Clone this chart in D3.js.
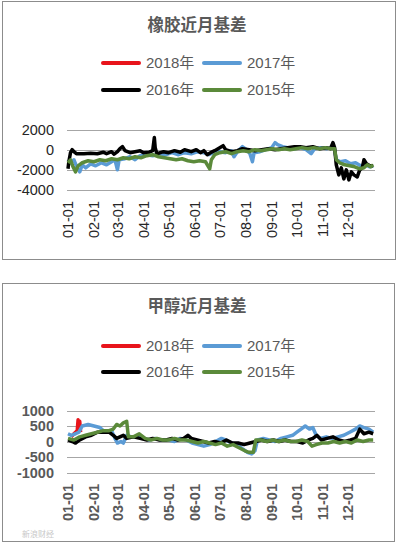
<!DOCTYPE html>
<html>
<head>
<meta charset="utf-8">
<script src="https://cdn.jsdelivr.net/npm/d3@7"></script>
<style>
  body { margin: 0; background: #fff; }
  svg { display: block; font-family: "Liberation Sans", "Noto Sans CJK SC", sans-serif; }
</style>
</head>
<body>
<svg id="chart" width="398" height="545"></svg>
<script>
// ---- data ----
var monthTicks = ["01-01","02-01","03-01","04-01","05-01","06-01","07-01","08-01","09-01","10-01","11-01","12-01"];
var seriesNames = ["2018年","2017年","2016年","2015年"];
var seriesColors = ["#e8141b","#5b9bd5","#000000","#5b8a3a"];

var rubberTicks = [2000, 0, -2000, -4000];
var methanolTicks = [1000, 500, 0, -500, -1000];

// 橡胶
var rubber2018 = [];
var rubber2017 = [["01-01",-1000],["01-04",-1300],["01-08",-1000],["01-12",-1800],["01-15",-2200],["01-18",-1500],["01-22",-1800],["01-28",-1400],["02-03",-1600],["02-10",-1300],["02-16",-1500],["02-22",-1200],["02-26",-1000],["03-01",-2000],["03-03",-1000],["03-10",-900],["03-16",-700],["03-22",-1000],["03-28",-600],["04-05",-500],["04-12",-600],["04-20",-400],["04-28",-500],["05-05",-300],["05-12",-500],["05-20",-300],["05-28",-400],["06-05",-200],["06-12",-300],["06-18",-500],["06-24",-300],["07-01",-200],["07-08",-300],["07-15",-100],["07-18",-700],["07-22",-200],["07-28",300],["08-02",0],["08-06",-400],["08-09",-1200],["08-11",-300],["08-18",-200],["08-25",0],["09-01",200],["09-05",700],["09-08",500],["09-14",300],["09-20",200],["09-28",100],["10-05",200],["10-12",0],["10-18",-400],["10-22",100],["10-30",200],["11-06",100],["11-12",200],["11-15",0],["11-17",-1000],["11-22",-1200],["11-28",-1100],["12-04",-1400],["12-10",-1300],["12-16",-1600],["12-22",-1500],["12-27",-1700],["12-31",-1600]];
var rubber2016 = [["01-01",-1900],["01-02",-1200],["01-04",-300],["01-06",0],["01-08",-200],["01-11",-400],["01-20",-400],["01-28",-350],["02-05",-400],["02-12",-250],["02-16",-400],["02-22",-200],["02-25",-450],["03-01",-200],["03-04",100],["03-07",300],["03-10",-100],["03-16",-300],["03-22",-200],["03-28",-100],["04-01",-300],["04-08",-250],["04-12",-100],["04-14",1200],["04-15",200],["04-17",-400],["04-25",-200],["05-01",-300],["05-08",-100],["05-15",-250],["05-20",0],["05-28",-200],["06-03",0],["06-08",-300],["06-12",-100],["06-16",-500],["06-20",-300],["06-25",-100],["07-01",200],["07-05",400],["07-08",0],["07-15",-200],["07-22",-100],["07-28",100],["08-05",0],["08-12",-100],["08-20",0],["08-28",100],["09-05",0],["09-12",100],["09-20",200],["09-28",300],["10-05",300],["10-12",200],["10-20",300],["10-28",100],["11-05",200],["11-10",100],["11-13",700],["11-15",200],["11-17",-1500],["11-20",-2500],["11-23",-1800],["11-26",-2900],["11-29",-2000],["12-02",-3000],["12-05",-2200],["12-08",-2500],["12-12",-2700],["12-15",-2000],["12-18",-1800],["12-20",-1000],["12-23",-1400],["12-27",-1600],["12-31",-1600]];
var rubber2015 = [["01-01",-1300],["01-04",-1000],["01-07",-1700],["01-10",-2200],["01-13",-1600],["01-18",-1300],["01-25",-1100],["02-01",-1200],["02-08",-1000],["02-15",-1100],["02-22",-900],["03-01",-1000],["03-08",-800],["03-15",-900],["03-22",-700],["03-29",-800],["04-05",-600],["04-12",-500],["04-19",-700],["04-26",-800],["05-03",-900],["05-10",-1000],["05-17",-900],["05-24",-1100],["05-31",-1200],["06-07",-1100],["06-14",-1200],["06-19",-1900],["06-21",-1000],["06-25",-500],["07-01",-300],["07-08",-200],["07-15",-400],["07-22",-200],["07-29",-100],["08-05",-200],["08-12",0],["08-19",-100],["08-26",0],["09-02",100],["09-09",0],["09-16",100],["09-23",0],["09-30",100],["10-07",200],["10-14",100],["10-21",200],["10-28",100],["11-04",200],["11-11",100],["11-15",100],["11-17",-1000],["11-21",-1300],["11-27",-1500],["12-03",-1600],["12-09",-1700],["12-15",-1900],["12-20",-1800],["12-24",-1500],["12-28",-1700],["12-31",-1500]];

// 甲醇
var methanol2018 = [["01-05",150],["01-08",250],["01-10",300],["01-12",350],["01-13",700],["01-14",400],["01-15",650],["01-16",300]];
var methanol2017 = [["01-01",250],["01-05",200],["01-10",250],["01-14",300],["01-18",500],["01-25",550],["02-01",500],["02-08",450],["02-12",350],["02-18",300],["02-22",350],["02-26",100],["03-01",-50],["03-05",0],["03-08",-50],["03-12",200],["03-18",150],["03-25",150],["04-01",100],["04-08",50],["04-15",100],["04-22",50],["05-01",50],["05-08",0],["05-15",100],["05-22",50],["05-29",-50],["06-05",-100],["06-12",-150],["06-19",-100],["06-26",0],["07-03",100],["07-08",50],["07-15",-50],["07-22",-100],["07-29",-250],["08-03",-350],["08-08",-400],["08-12",-300],["08-15",50],["08-22",100],["08-29",50],["09-05",0],["09-12",100],["09-19",150],["09-26",200],["10-01",300],["10-06",400],["10-11",500],["10-16",400],["10-20",450],["10-24",200],["10-29",100],["11-05",150],["11-12",100],["11-19",150],["11-26",200],["12-03",300],["12-10",400],["12-15",500],["12-20",450],["12-26",400],["12-31",300]];
var methanol2016 = [["01-01",50],["01-06",0],["01-10",-50],["01-15",50],["01-22",150],["01-29",200],["02-05",300],["02-12",300],["02-19",300],["02-24",200],["02-28",100],["03-04",150],["03-08",200],["03-12",100],["03-20",150],["03-28",100],["04-05",50],["04-12",100],["04-20",50],["04-28",50],["05-05",100],["05-12",50],["05-19",100],["05-24",200],["05-28",100],["06-04",50],["06-11",0],["06-18",-50],["06-25",0],["07-02",-50],["07-09",50],["07-16",-50],["07-23",-50],["07-30",-100],["08-06",-50],["08-13",0],["08-20",50],["08-27",0],["09-03",50],["09-10",0],["09-17",50],["09-24",0],["10-01",0],["10-08",-50],["10-15",50],["10-20",100],["10-25",200],["10-30",50],["11-06",100],["11-13",150],["11-20",50],["11-27",0],["12-04",50],["12-10",100],["12-15",400],["12-20",250],["12-26",300],["12-31",250]];
var methanol2015 = [["01-01",100],["01-08",50],["01-15",150],["01-22",200],["01-29",250],["02-05",300],["02-12",350],["02-19",350],["02-24",400],["02-28",550],["03-04",500],["03-08",600],["03-12",650],["03-14",150],["03-20",150],["03-27",250],["04-03",100],["04-10",50],["04-17",100],["04-24",50],["05-01",50],["05-08",100],["05-15",50],["05-22",50],["05-29",0],["06-05",-50],["06-12",0],["06-19",-50],["06-26",-100],["07-03",-50],["07-10",-150],["07-17",-100],["07-24",-200],["07-31",-300],["08-05",-350],["08-10",-350],["08-13",50],["08-19",50],["08-26",0],["09-02",50],["09-09",0],["09-16",50],["09-23",0],["09-30",0],["10-07",50],["10-14",0],["10-19",-150],["10-24",-100],["10-31",-50],["11-07",-50],["11-14",0],["11-21",-50],["11-28",0],["12-05",-50],["12-12",50],["12-19",0],["12-26",50],["12-31",50]];

var parseDay = d3.timeParse("%m-%d");
var svg = d3.select("#chart");

function drawChart(opt) {
  var g = svg.append("g");

  // frame
  g.append("rect")
    .attr("x", opt.box[0] + 0.5).attr("y", opt.box[1] + 0.5)
    .attr("width", opt.box[2]).attr("height", opt.box[3])
    .attr("fill", "#fff").attr("stroke", "#8c8c8c").attr("stroke-width", 1);

  // title
  g.append("text")
    .attr("x", 197).attr("y", opt.titleY)
    .attr("text-anchor", "middle")
    .attr("font-family", "'Noto Sans CJK SC', sans-serif")
    .attr("font-size", 16.5).attr("font-weight", "bold")
    .attr("fill", "#595959")
    .text(opt.title);

  // legend
  var legCols = [103, 204];
  seriesNames.forEach(function(name, i) {
    var lx = legCols[i % 2];
    var ly = i < 2 ? opt.legendY[0] : opt.legendY[1];
    g.append("line")
      .attr("x1", lx).attr("x2", lx + 36).attr("y1", ly).attr("y2", ly)
      .attr("stroke", seriesColors[i]).attr("stroke-width", 4).attr("stroke-linecap", "round");
    g.append("text")
      .attr("x", lx + 43).attr("y", ly).attr("dy", "0.36em")
      .attr("font-size", 15).attr("fill", "#595959")
      .text(name);
  });

  var x = d3.scaleTime()
    .domain([parseDay("01-01"), d3.timeDay.offset(parseDay("12-31"), 1)])
    .range([68, 374]);
  var y = d3.scaleLinear()
    .domain([d3.min(opt.ticks), d3.max(opt.ticks)])
    .range([opt.plotBottom, opt.plotTop]);

  // gridlines
  g.selectAll(".grid").data(opt.ticks).enter().append("line")
    .attr("x1", 67).attr("x2", 375)
    .attr("y1", function(d) { return Math.round(y(d)) + 0.5; })
    .attr("y2", function(d) { return Math.round(y(d)) + 0.5; })
    .attr("stroke", "#a6a6a6").attr("stroke-width", 1);

  // y tick labels
  g.selectAll(".ytick").data(opt.ticks).enter().append("text")
    .attr("x", 54).attr("y", function(d) { return y(d); })
    .attr("dy", "0.36em").attr("text-anchor", "end")
    .attr("font-size", 14.5).attr("font-weight", opt.bold ? "bold" : "normal")
    .attr("fill", opt.bold ? "#595959" : "#262626")
    .text(function(d) { return d; });

  // x tick labels, rotated
  g.selectAll(".xtick").data(monthTicks).enter().append("text")
    .attr("transform", function(d) {
      return "translate(" + x(parseDay(d)) + "," + opt.xLabelTop + ") rotate(-90)";
    })
    .attr("dy", "0.36em").attr("text-anchor", "end")
    .attr("font-size", 14.5).attr("font-weight", opt.bold ? "bold" : "normal")
    .attr("fill", opt.bold ? "#595959" : "#262626")
    .text(function(d) { return d; });

  var line = d3.line()
    .x(function(d) { return x(parseDay(d[0])); })
    .y(function(d) { return y(d[1]); });

  opt.series.forEach(function(s, i) {
    if (!s.length) return;
    g.append("path")
      .datum(s)
      .attr("d", line)
      .attr("fill", "none")
      .attr("stroke", seriesColors[i])
      .attr("stroke-width", 3.5)
      .attr("stroke-linejoin", "round");
  });
  return g;
}

drawChart({
  box: [2, 1, 393, 258],
  title: "橡胶近月基差",
  titleY: 31,
  legendY: [63, 90],
  ticks: rubberTicks,
  plotTop: 129.5, plotBottom: 190,
  xLabelTop: 201,
  bold: false,
  series: [rubber2018, rubber2017, rubber2016, rubber2015]
});

var g2 = drawChart({
  box: [2, 283, 392, 258],
  title: "甲醇近月基差",
  titleY: 312,
  legendY: [346, 372],
  ticks: methanolTicks,
  plotTop: 410.5, plotBottom: 472.5,
  xLabelTop: 484,
  bold: true,
  series: [methanol2018, methanol2017, methanol2016, methanol2015]
});

// faint watermark at the lower left
g2.append("text")
  .attr("x", 22).attr("y", 537)
  .attr("font-family", "'Noto Sans CJK SC', sans-serif")
  .attr("font-size", 8).attr("fill", "#c8c8c8")
  .text("新浪财经");
</script>
</body>
</html>
